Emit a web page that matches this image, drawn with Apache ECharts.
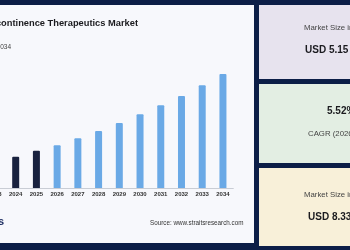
<!DOCTYPE html>
<html>
<head>
<meta charset="utf-8">
<script src="https://cdn.jsdelivr.net/npm/echarts@6/dist/echarts.min.js"></script>
<style>
  html, body { margin: 0; padding: 0; background: #0c1e47; overflow: hidden; }
  #main { position: absolute; left: -20px; top: 0; width: 370px; height: 250px; }
</style>
</head>
<body>
<div id="main"></div>
<script>
// chart data
var years = ['2023', '2024', '2025', '2026', '2027', '2028', '2029', '2030', '2031', '2032', '2033', '2034'];
var marketSize = [4.65, 4.90, 5.15, 5.37, 5.66, 5.97, 6.30, 6.66, 7.03, 7.42, 7.86, 8.33];
var lastActualIdx = 2; // 2023-2025 dark, forecast light

var FONT = '"Liberation Sans", Arial, sans-serif';
var NAVY = '#0c1e47';
var OX = 20; // canvas starts 20px left of the window

function txt(x, y, text, font, fill, align) {
  return { type: 'text', x: x + OX, y: y, style: { text: text, align: align || 'left', verticalAlign: 'middle', font: font, fill: fill } };
}
function box(x, y, w, h, fill) {
  return { type: 'rect', shape: { x: x + OX, y: y, width: w, height: h }, style: { fill: fill }, z: -10 };
}

var chart = echarts.init(document.getElementById('main'));
chart.setOption({
  animation: false,
  backgroundColor: NAVY,
  graphic: [
    box(-OX, 5, 254 + OX, 238, '#f7f8fc'),
    box(259, 5, 95, 74, '#e7e3ee'),
    box(259, 84, 95, 79, '#e3eee3'),
    box(259, 168, 95, 78, '#f8f0d9'),
    txt(138, 23, 'Incontinence Therapeutics Market', 'bold 9.3px ' + FONT, '#1b1b1f', 'right'),
    txt(11, 47, 'Market Size, 2023-2034', '6.5px ' + FONT, '#444', 'right'),
    txt(4, 222, 'Straits', 'bold 11px ' + FONT, '#1f2f63', 'right'),
    txt(150, 223, 'Source: www.straitsresearch.com', '6.3px ' + FONT, '#333'),
    txt(304, 28, 'Market Size in 2025', '7.8px ' + FONT, '#444'),
    txt(305, 50, 'USD 5.15 Billion', 'bold 10px ' + FONT, '#1b1b1f'),
    txt(327, 111, '5.52%', 'bold 10px ' + FONT, '#1b1b1f'),
    txt(308, 134, 'CAGR (2026-2034)', '7.8px ' + FONT, '#444'),
    txt(304, 195, 'Market Size in 2034', '7.8px ' + FONT, '#444'),
    txt(308, 217, 'USD 8.33 Billion', 'bold 10px ' + FONT, '#1b1b1f')
  ],
  grid: { left: OX - 15.4, top: 74, width: 248.7, height: 114, containLabel: false },
  xAxis: {
    type: 'category',
    data: years,
    axisLine: { lineStyle: { color: '#c9cdd5', width: 1 } },
    axisTick: { show: false },
    axisLabel: { color: '#333', fontSize: 6, fontWeight: 'bold', fontFamily: FONT, margin: 3, interval: 0 }
  },
  yAxis: {
    type: 'value',
    min: 3.6,
    max: 8.33,
    show: false
  },
  series: [{
    type: 'bar',
    barWidth: 7,
    data: marketSize.map(function (v, i) {
      return { value: v, itemStyle: { color: i <= lastActualIdx ? '#19223f' : '#6aa9e6', borderRadius: [1, 1, 0, 0] } };
    })
  }]
});
</script>
</body>
</html>
